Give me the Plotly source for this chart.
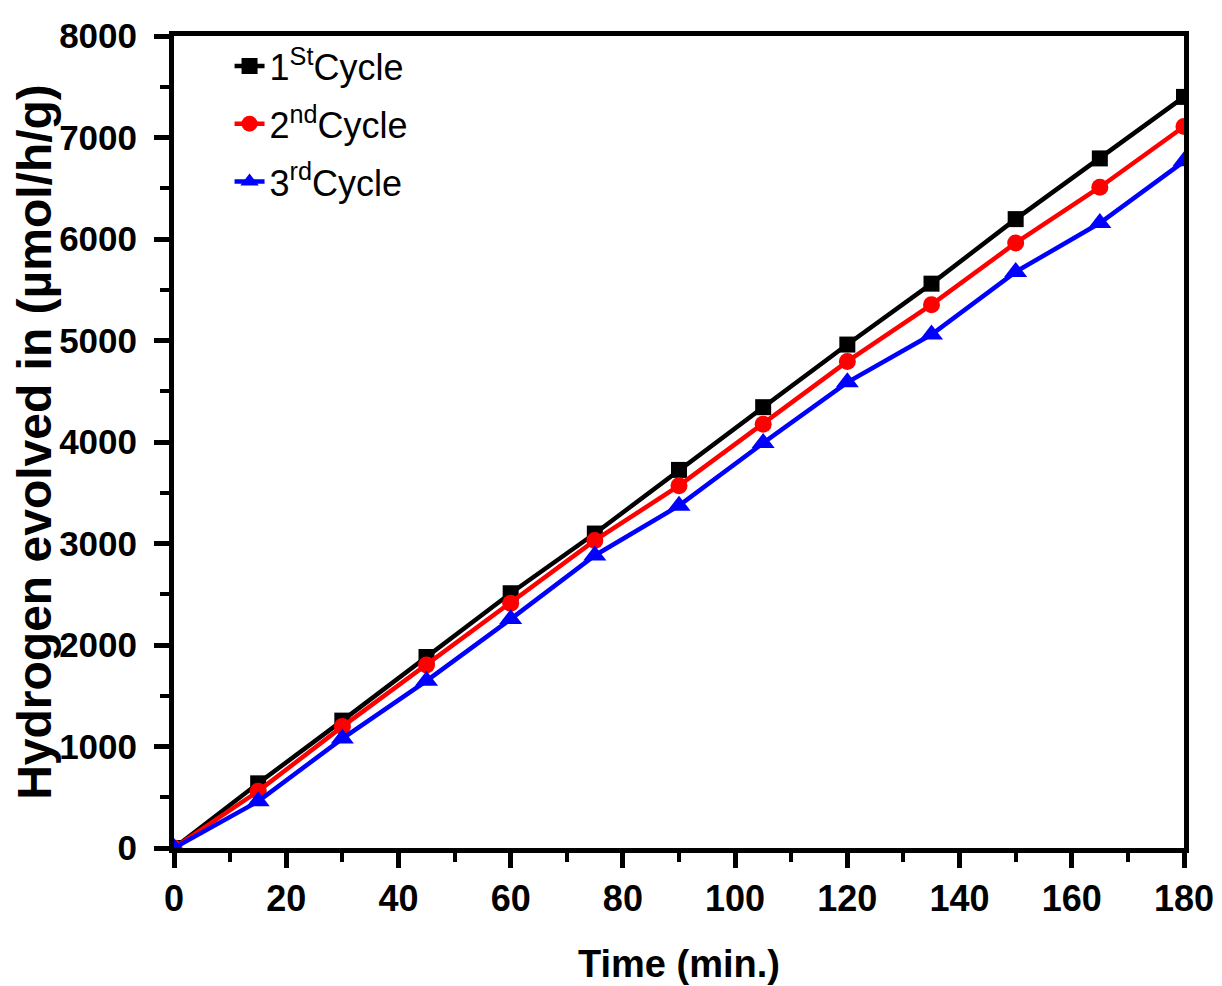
import plotly.graph_objects as go

time_min = [0, 15, 30, 45, 60, 75, 90, 105, 120, 135, 150, 165, 180]
cycle1 = [0, 637, 1255, 1882, 2510, 3098, 3725, 4343, 4960, 5560, 6196, 6794, 7400]
cycle2 = [0, 560, 1196, 1804, 2412, 3030, 3570, 4176, 4794, 5353, 5961, 6510, 7108]
cycle3 = [0, 460, 1078, 1647, 2255, 2882, 3373, 3990, 4588, 5059, 5676, 6157, 6765]

names = ["1<sup>St</sup>Cycle", "2<sup>nd</sup>Cycle", "3<sup>rd</sup>Cycle"]
colors = ["#000000", "#FF0000", "#0000FF"]
symbols = ["square", "circle", "triangle-up"]
msizes = [16, 17, 20]

fig = go.Figure()
for i, ys in enumerate([cycle1, cycle2, cycle3]):
    fig.add_trace(go.Scatter(
        x=time_min, y=ys, mode="lines+markers", name=names[i],
        legendgroup=f"g{i}",
        line=dict(color=colors[i], width=4.5),
        marker=dict(symbol=symbols[i], size=msizes[i], color=colors[i]),
    ))

fig.update_layout(
    width=1214, height=978,
    margin=dict(l=166, r=38, t=28, b=138, autoexpand=False),
    paper_bgcolor="white", plot_bgcolor="white",
    font=dict(family="Liberation Sans, Arial", color="black"),
    showlegend=True,
    legend=dict(x=0.055, y=1.0, xanchor="left", yanchor="top",
                bgcolor="rgba(0,0,0,0)", borderwidth=0,
                font=dict(size=36, family="Liberation Sans, Arial", color="black"),
                tracegroupgap=8),
)
fig.update_xaxes(
    automargin=False,
    range=[0, 180], tickmode="array", tickvals=list(range(0, 181, 20)),
    showgrid=False, zeroline=False,
    showline=True, linecolor="black", linewidth=5, mirror=True,
    ticks="outside", ticklen=15, tickwidth=5, tickcolor="black",
    ticklabelstandoff=0,
    minor=dict(ticks="outside", ticklen=9, tickwidth=4, tickcolor="black", dtick=10, showgrid=False),
    tickfont=dict(size=36, family="Liberation Sans, Arial", weight="bold", color="black"),
    title=dict(text="Time (min.)", standoff=34,
               font=dict(size=38, family="Liberation Sans, Arial", weight="bold", color="black")),
)
fig.update_yaxes(
    automargin=False,
    range=[0, 8000], tickmode="array", tickvals=list(range(0, 8001, 1000)),
    showgrid=False, zeroline=False,
    showline=True, linecolor="black", linewidth=5, mirror=True,
    ticks="outside", ticklen=15, tickwidth=5, tickcolor="black",
    ticklabelstandoff=10,
    minor=dict(ticks="outside", ticklen=9, tickwidth=4, tickcolor="black", dtick=500, showgrid=False),
    tickfont=dict(size=35, family="Liberation Sans, Arial", weight="bold", color="black"),
    title=dict(text="Hydrogen evolved in (µmol/h/g)", standoff=8,
               font=dict(size=48, family="Liberation Sans, Arial", weight="bold", color="black")),
)

fig.write_html("out.html")
